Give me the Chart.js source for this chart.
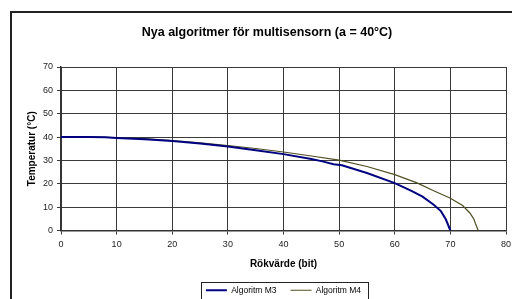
<!DOCTYPE html>
<html>
<head>
<meta charset="utf-8">
<script src="https://cdn.jsdelivr.net/npm/chart.js@4/dist/chart.umd.min.js"></script>
<style>
  html, body { margin: 0; padding: 0; background: #fff; overflow: hidden; }
  #wrap { width: 512px; height: 299px; }
</style>
</head>
<body>
<div id="wrap"><canvas id="c" width="512" height="299"></canvas></div>
<script>
const chartTitle = 'Nya algoritmer för multisensorn (a = 40°C)';
const xTitle = 'Rökvärde (bit)';
const yTitle = 'Temperatur (°C)';
const seriesNames = ['Algoritm M3', 'Algoritm M4'];

const m3X = [0, 5, 8, 10, 15, 20, 25, 30, 35, 40, 45, 47, 49, 50.5, 55, 60, 63, 65, 67, 68.3, 69.2, 70];
const m3Y = [40, 40, 39.9, 39.6, 39.1, 38.3, 37.2, 36.0, 34.4, 32.7, 30.6, 29.6, 28.4, 27.9, 24.6, 20.3, 17.0, 14.5, 11.0, 8.3, 4.7, 0];

const m4X = [0, 5, 8, 10, 15, 20, 25, 30, 35, 40, 45, 50, 55, 60, 64, 67, 70, 72.2, 73.5, 74.2, 74.5, 75];
const m4Y = [40, 40, 39.9, 39.7, 39.3, 38.5, 37.5, 36.4, 35.1, 33.6, 31.9, 30.1, 27.4, 23.9, 20.4, 17.0, 13.8, 10.7, 7.5, 5.0, 3.0, 0];

const xTicks = [0, 10, 20, 30, 40, 50, 60, 70, 80];
const yTicks = [0, 10, 20, 30, 40, 50, 60, 70];

const toPts = (xs, ys) => xs.map((x, i) => ({ x: x, y: ys[i] }));

const FONT = '"Liberation Sans", Arial, sans-serif';

const framePlugin = {
  id: 'frame',
  beforeDraw(chart) {
    const ctx = chart.ctx;
    ctx.save();
    ctx.fillStyle = '#fff';
    ctx.fillRect(0, 0, chart.width, chart.height);
    ctx.strokeStyle = '#222';
    ctx.lineWidth = 2;
    ctx.strokeRect(11, 12, 620, 400);
    ctx.restore();
  },
  afterLayout(chart) {
    const ca = chart.chartArea;
    const lg = chart.legend;
    if (lg) {
      const h = lg.height;
      const shift = (ca.left + ca.right) / 2 - (lg.left + lg.right) / 2;
      lg.left += shift; lg.right += shift;
      lg.top = 272; lg.bottom = 272 + h;
    }
    const tb = chart.titleBlock;
    if (tb) {
      const tshift = 267 - (tb.left + tb.right) / 2;
      tb.left += tshift; tb.right += tshift;
    }
  },
  afterDraw(chart) {
    const lg = chart.legend;
    if (!lg || !lg.legendHitBoxes || !lg.legendHitBoxes.length) return;
    const hb = lg.legendHitBoxes;
    const l = hb[0].left - 5;
    const r = hb[hb.length - 1].left + hb[hb.length - 1].width + 7;
    const ctx = chart.ctx;
    ctx.save();
    ctx.strokeStyle = '#222';
    ctx.lineWidth = 1;
    ctx.strokeRect(Math.round(l) + 0.5, 282.5, Math.round(r - l), 30);
    ctx.restore();
  }
};

new Chart(document.getElementById('c'), {
  type: 'line',
  data: {
    datasets: [
      { label: seriesNames[0], data: toPts(m3X, m3Y), borderColor: '#000080', backgroundColor: '#000080', borderWidth: 2, pointRadius: 0, tension: 0, fill: false },
      { label: seriesNames[1], data: toPts(m4X, m4Y), borderColor: '#4f4f22', backgroundColor: '#4f4f22', borderWidth: 1.2, pointRadius: 0, tension: 0, fill: false }
    ]
  },
  options: {
    responsive: false,
    animation: false,
    devicePixelRatio: 1,
    layout: { padding: { left: 22, right: 6, top: 24, bottom: -9 } },
    plugins: {
      title: {
        display: true, text: chartTitle, color: '#000',
        font: { family: FONT, size: 12.5, weight: 'bold' },
        padding: { top: 1, bottom: 27 }
      },
      legend: {
        display: true, position: 'bottom',
        labels: {
          usePointStyle: true, pointStyle: 'line', pointStyleWidth: 21,
          color: '#000', font: { family: FONT, size: 8.5 }, padding: 14
        }
      },
      tooltip: { enabled: false }
    },
    scales: {
      x: {
        type: 'linear', min: 0, max: 80,
        afterBuildTicks(s) { s.ticks = xTicks.map(v => ({ value: v })); },
        afterFit(s) { s.height = 45; s.paddingRight = 0; s.paddingLeft = 0; },
        ticks: { color: '#222', font: { family: FONT, size: 9 }, padding: 5, maxRotation: 0 },
        grid: { color: '#3a3a3a', lineWidth: 1, tickLength: 4, drawTicks: true },
        border: { color: '#333', width: 1.5 },
        title: { display: true, text: xTitle, color: '#000', font: { family: FONT, size: 10, weight: 'bold' }, padding: { top: 0, bottom: 5 } }
      },
      y: {
        type: 'linear', min: 0, max: 70,
        afterBuildTicks(s) { s.ticks = yTicks.map(v => ({ value: v })); },
        afterFit(s) { s.width = 39; },
        ticks: { color: '#222', font: { family: FONT, size: 9 }, padding: 4 },
        grid: { color: '#3a3a3a', lineWidth: 1, tickLength: 4, drawTicks: true },
        border: { color: '#333', width: 1.5 },
        title: { display: true, text: yTitle, color: '#000', font: { family: FONT, size: 10, weight: 'bold' }, padding: { top: 4, bottom: 0 } }
      }
    }
  },
  plugins: [framePlugin]
});
</script>
</body>
</html>
